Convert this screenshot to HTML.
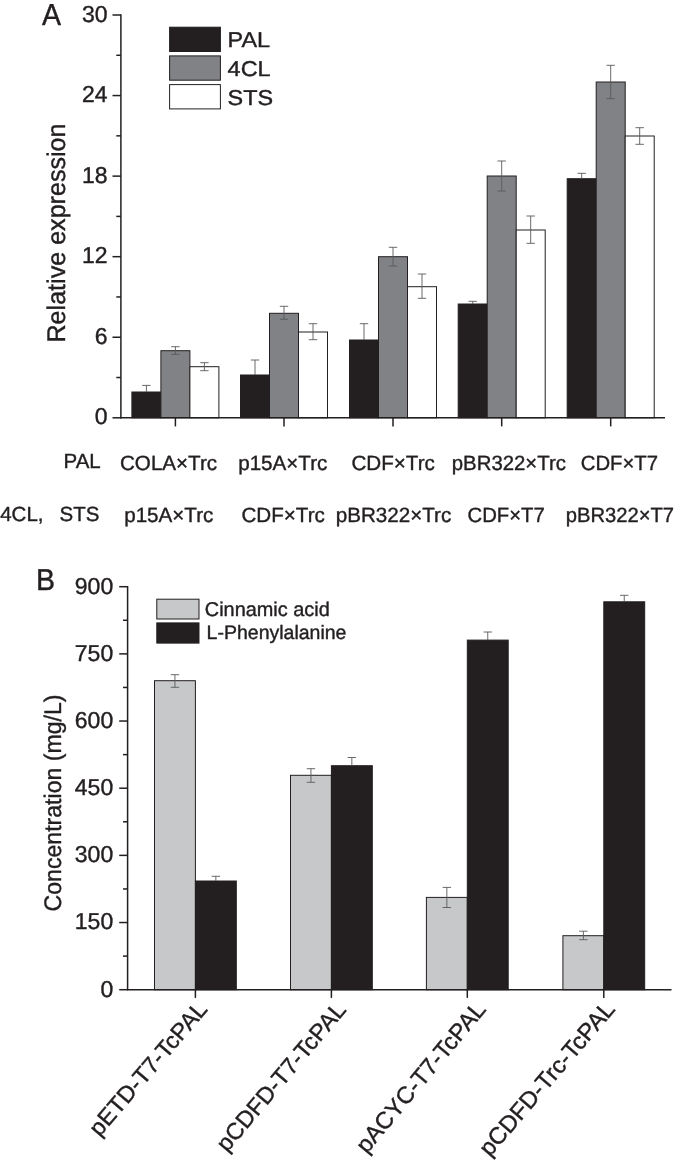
<!DOCTYPE html>
<html lang="en"><head><meta charset="utf-8"><title>Figure</title>
<style>
html,body{margin:0;padding:0;background:#fff;}
body{width:675px;height:1162px;overflow:hidden;}
svg{display:block;}
text{font-family:"Liberation Sans",Arial,Helvetica,sans-serif;fill:#231f20;stroke:#231f20;stroke-width:0.4px;stroke-linejoin:round;text-rendering:geometricPrecision;}
</style></head><body>
<svg style="will-change:transform" width="675" height="1162" viewBox="0 0 675 1162">
<rect x="0" y="0" width="675" height="1162" fill="#ffffff"/>

<rect x="131.90" y="392.00" width="29.00" height="25.80" fill="#231f20" stroke="#231f20" stroke-width="1.0"/>
<rect x="160.90" y="350.70" width="29.00" height="67.10" fill="#808285" stroke="#231f20" stroke-width="1.0"/>
<rect x="189.90" y="366.70" width="29.00" height="51.10" fill="#ffffff" stroke="#231f20" stroke-width="1.0"/>
<line x1="146.40" y1="385.40" x2="146.40" y2="392.00" stroke="#58595b" stroke-width="0.9"/>
<line x1="142.20" y1="385.40" x2="150.60" y2="385.40" stroke="#58595b" stroke-width="0.9"/>
<line x1="175.40" y1="346.70" x2="175.40" y2="354.30" stroke="#58595b" stroke-width="0.9"/>
<line x1="171.20" y1="346.70" x2="179.60" y2="346.70" stroke="#58595b" stroke-width="0.9"/>
<line x1="171.20" y1="354.30" x2="179.60" y2="354.30" stroke="#58595b" stroke-width="0.9"/>
<line x1="204.40" y1="362.70" x2="204.40" y2="370.70" stroke="#58595b" stroke-width="0.9"/>
<line x1="200.20" y1="362.70" x2="208.60" y2="362.70" stroke="#58595b" stroke-width="0.9"/>
<line x1="200.20" y1="370.70" x2="208.60" y2="370.70" stroke="#58595b" stroke-width="0.9"/>
<rect x="240.50" y="375.00" width="29.00" height="42.80" fill="#231f20" stroke="#231f20" stroke-width="1.0"/>
<rect x="269.50" y="313.30" width="29.00" height="104.50" fill="#808285" stroke="#231f20" stroke-width="1.0"/>
<rect x="298.50" y="332.00" width="29.00" height="85.80" fill="#ffffff" stroke="#231f20" stroke-width="1.0"/>
<line x1="255.00" y1="360.00" x2="255.00" y2="375.00" stroke="#58595b" stroke-width="0.9"/>
<line x1="250.80" y1="360.00" x2="259.20" y2="360.00" stroke="#58595b" stroke-width="0.9"/>
<line x1="284.00" y1="306.30" x2="284.00" y2="319.30" stroke="#58595b" stroke-width="0.9"/>
<line x1="279.80" y1="306.30" x2="288.20" y2="306.30" stroke="#58595b" stroke-width="0.9"/>
<line x1="279.80" y1="319.30" x2="288.20" y2="319.30" stroke="#58595b" stroke-width="0.9"/>
<line x1="313.00" y1="323.70" x2="313.00" y2="339.70" stroke="#58595b" stroke-width="0.9"/>
<line x1="308.80" y1="323.70" x2="317.20" y2="323.70" stroke="#58595b" stroke-width="0.9"/>
<line x1="308.80" y1="339.70" x2="317.20" y2="339.70" stroke="#58595b" stroke-width="0.9"/>
<rect x="349.50" y="340.00" width="29.00" height="77.80" fill="#231f20" stroke="#231f20" stroke-width="1.0"/>
<rect x="378.50" y="256.70" width="29.00" height="161.10" fill="#808285" stroke="#231f20" stroke-width="1.0"/>
<rect x="407.50" y="286.70" width="29.00" height="131.10" fill="#ffffff" stroke="#231f20" stroke-width="1.0"/>
<line x1="364.00" y1="323.70" x2="364.00" y2="340.00" stroke="#58595b" stroke-width="0.9"/>
<line x1="359.80" y1="323.70" x2="368.20" y2="323.70" stroke="#58595b" stroke-width="0.9"/>
<line x1="393.00" y1="247.30" x2="393.00" y2="266.00" stroke="#58595b" stroke-width="0.9"/>
<line x1="388.80" y1="247.30" x2="397.20" y2="247.30" stroke="#58595b" stroke-width="0.9"/>
<line x1="388.80" y1="266.00" x2="397.20" y2="266.00" stroke="#58595b" stroke-width="0.9"/>
<line x1="422.00" y1="274.00" x2="422.00" y2="298.30" stroke="#58595b" stroke-width="0.9"/>
<line x1="417.80" y1="274.00" x2="426.20" y2="274.00" stroke="#58595b" stroke-width="0.9"/>
<line x1="417.80" y1="298.30" x2="426.20" y2="298.30" stroke="#58595b" stroke-width="0.9"/>
<rect x="458.20" y="304.00" width="29.00" height="113.80" fill="#231f20" stroke="#231f20" stroke-width="1.0"/>
<rect x="487.20" y="176.00" width="29.00" height="241.80" fill="#808285" stroke="#231f20" stroke-width="1.0"/>
<rect x="516.20" y="230.00" width="29.00" height="187.80" fill="#ffffff" stroke="#231f20" stroke-width="1.0"/>
<line x1="472.70" y1="301.30" x2="472.70" y2="304.00" stroke="#58595b" stroke-width="0.9"/>
<line x1="468.50" y1="301.30" x2="476.90" y2="301.30" stroke="#58595b" stroke-width="0.9"/>
<line x1="501.70" y1="161.00" x2="501.70" y2="191.00" stroke="#58595b" stroke-width="0.9"/>
<line x1="497.50" y1="161.00" x2="505.90" y2="161.00" stroke="#58595b" stroke-width="0.9"/>
<line x1="497.50" y1="191.00" x2="505.90" y2="191.00" stroke="#58595b" stroke-width="0.9"/>
<line x1="530.70" y1="216.00" x2="530.70" y2="243.30" stroke="#58595b" stroke-width="0.9"/>
<line x1="526.50" y1="216.00" x2="534.90" y2="216.00" stroke="#58595b" stroke-width="0.9"/>
<line x1="526.50" y1="243.30" x2="534.90" y2="243.30" stroke="#58595b" stroke-width="0.9"/>
<rect x="567.20" y="178.70" width="29.00" height="239.10" fill="#231f20" stroke="#231f20" stroke-width="1.0"/>
<rect x="596.20" y="82.00" width="29.00" height="335.80" fill="#808285" stroke="#231f20" stroke-width="1.0"/>
<rect x="625.20" y="136.00" width="29.00" height="281.80" fill="#ffffff" stroke="#231f20" stroke-width="1.0"/>
<line x1="581.70" y1="173.30" x2="581.70" y2="178.70" stroke="#58595b" stroke-width="0.9"/>
<line x1="577.50" y1="173.30" x2="585.90" y2="173.30" stroke="#58595b" stroke-width="0.9"/>
<line x1="610.70" y1="65.30" x2="610.70" y2="98.70" stroke="#58595b" stroke-width="0.9"/>
<line x1="606.50" y1="65.30" x2="614.90" y2="65.30" stroke="#58595b" stroke-width="0.9"/>
<line x1="606.50" y1="98.70" x2="614.90" y2="98.70" stroke="#58595b" stroke-width="0.9"/>
<line x1="639.70" y1="127.70" x2="639.70" y2="144.30" stroke="#58595b" stroke-width="0.9"/>
<line x1="635.50" y1="127.70" x2="643.90" y2="127.70" stroke="#58595b" stroke-width="0.9"/>
<line x1="635.50" y1="144.30" x2="643.90" y2="144.30" stroke="#58595b" stroke-width="0.9"/>
<line x1="120.90" y1="14.35" x2="120.90" y2="418.45" stroke="#231f20" stroke-width="1.5"/>
<line x1="120.25" y1="417.80" x2="665.00" y2="417.80" stroke="#231f20" stroke-width="1.5"/>
<line x1="112.50" y1="417.80" x2="120.90" y2="417.80" stroke="#231f20" stroke-width="1.5"/>
<text transform="translate(107.60,424.40)" font-size="23" text-anchor="end">0</text>
<line x1="116.30" y1="377.52" x2="120.90" y2="377.52" stroke="#231f20" stroke-width="1.5"/>
<line x1="112.50" y1="337.24" x2="120.90" y2="337.24" stroke="#231f20" stroke-width="1.5"/>
<text transform="translate(107.60,343.84)" font-size="23" text-anchor="end">6</text>
<line x1="116.30" y1="296.96" x2="120.90" y2="296.96" stroke="#231f20" stroke-width="1.5"/>
<line x1="112.50" y1="256.68" x2="120.90" y2="256.68" stroke="#231f20" stroke-width="1.5"/>
<text transform="translate(107.60,263.28)" font-size="23" text-anchor="end">12</text>
<line x1="116.30" y1="216.40" x2="120.90" y2="216.40" stroke="#231f20" stroke-width="1.5"/>
<line x1="112.50" y1="176.12" x2="120.90" y2="176.12" stroke="#231f20" stroke-width="1.5"/>
<text transform="translate(107.60,182.72)" font-size="23" text-anchor="end">18</text>
<line x1="116.30" y1="135.84" x2="120.90" y2="135.84" stroke="#231f20" stroke-width="1.5"/>
<line x1="112.50" y1="95.56" x2="120.90" y2="95.56" stroke="#231f20" stroke-width="1.5"/>
<text transform="translate(107.60,102.16)" font-size="23" text-anchor="end">24</text>
<line x1="116.30" y1="55.28" x2="120.90" y2="55.28" stroke="#231f20" stroke-width="1.5"/>
<line x1="112.50" y1="15.00" x2="120.90" y2="15.00" stroke="#231f20" stroke-width="1.5"/>
<text transform="translate(107.60,21.60)" font-size="23" text-anchor="end">30</text>
<line x1="175.40" y1="417.80" x2="175.40" y2="426.40" stroke="#231f20" stroke-width="1.5"/>
<line x1="284.00" y1="417.80" x2="284.00" y2="426.40" stroke="#231f20" stroke-width="1.5"/>
<line x1="393.00" y1="417.80" x2="393.00" y2="426.40" stroke="#231f20" stroke-width="1.5"/>
<line x1="501.70" y1="417.80" x2="501.70" y2="426.40" stroke="#231f20" stroke-width="1.5"/>
<line x1="610.70" y1="417.80" x2="610.70" y2="426.40" stroke="#231f20" stroke-width="1.5"/>
<rect x="169.60" y="27.20" width="50.80" height="24.30" fill="#231f20" stroke="#231f20" stroke-width="1.0"/>
<text transform="translate(227.60,47.10) scale(1.0950,1)" font-size="21.4" text-anchor="start">PAL</text>
<rect x="169.60" y="55.90" width="50.80" height="24.30" fill="#808285" stroke="#231f20" stroke-width="1.0"/>
<text transform="translate(227.60,75.80) scale(1.0950,1)" font-size="21.4" text-anchor="start">4CL</text>
<rect x="169.60" y="84.60" width="50.80" height="24.30" fill="#ffffff" stroke="#231f20" stroke-width="1.0"/>
<text transform="translate(227.60,104.50) scale(1.0950,1)" font-size="21.4" text-anchor="start">STS</text>
<text transform="translate(41.90,25.00) scale(0.9380,1)" font-size="30.4" text-anchor="start">A</text>
<text transform="translate(65.2,233) rotate(-90)" font-size="25.5" text-anchor="middle" textLength="219" lengthAdjust="spacingAndGlyphs">Relative expression</text>
<text transform="translate(63.50,467.80)" font-size="20.5" text-anchor="start">PAL</text>
<text transform="translate(0.20,520.60)" font-size="20.5" text-anchor="start">4CL,</text>
<text transform="translate(59.60,520.60)" font-size="20.5" text-anchor="start">STS</text>
<text transform="translate(120.00,470.00)" font-size="20.6" text-anchor="start">COLA×Trc</text>
<text transform="translate(238.20,470.00)" font-size="20.6" text-anchor="start">p15A×Trc</text>
<text transform="translate(351.50,470.00)" font-size="20.6" text-anchor="start">CDF×Trc</text>
<text transform="translate(451.80,470.00) scale(0.9880,1)" font-size="20.6" text-anchor="start">pBR322×Trc</text>
<text transform="translate(580.80,470.00) scale(0.9850,1)" font-size="20.6" text-anchor="start">CDF×T7</text>
<text transform="translate(124.20,522.00)" font-size="20.6" text-anchor="start">p15A×Trc</text>
<text transform="translate(241.50,522.00)" font-size="20.6" text-anchor="start">CDF×Trc</text>
<text transform="translate(335.80,522.00)" font-size="20.6" text-anchor="start">pBR322×Trc</text>
<text transform="translate(467.50,522.00) scale(0.9850,1)" font-size="20.6" text-anchor="start">CDF×T7</text>
<text transform="translate(565.80,522.00) scale(0.9800,1)" font-size="20.6" text-anchor="start">pBR322×T7</text>
<rect x="154.50" y="680.70" width="40.90" height="309.00" fill="#c7c8ca" stroke="#231f20" stroke-width="1.0"/>
<rect x="195.40" y="881.00" width="40.90" height="108.70" fill="#231f20" stroke="#231f20" stroke-width="1.0"/>
<line x1="174.95" y1="674.70" x2="174.95" y2="687.30" stroke="#58595b" stroke-width="0.9"/>
<line x1="170.75" y1="674.70" x2="179.15" y2="674.70" stroke="#58595b" stroke-width="0.9"/>
<line x1="170.75" y1="687.30" x2="179.15" y2="687.30" stroke="#58595b" stroke-width="0.9"/>
<line x1="215.85" y1="876.30" x2="215.85" y2="881.00" stroke="#58595b" stroke-width="0.9"/>
<line x1="211.65" y1="876.30" x2="220.05" y2="876.30" stroke="#58595b" stroke-width="0.9"/>
<rect x="290.50" y="775.30" width="40.90" height="214.40" fill="#c7c8ca" stroke="#231f20" stroke-width="1.0"/>
<rect x="331.40" y="765.70" width="40.90" height="224.00" fill="#231f20" stroke="#231f20" stroke-width="1.0"/>
<line x1="310.95" y1="768.70" x2="310.95" y2="782.30" stroke="#58595b" stroke-width="0.9"/>
<line x1="306.75" y1="768.70" x2="315.15" y2="768.70" stroke="#58595b" stroke-width="0.9"/>
<line x1="306.75" y1="782.30" x2="315.15" y2="782.30" stroke="#58595b" stroke-width="0.9"/>
<line x1="351.85" y1="757.50" x2="351.85" y2="765.70" stroke="#58595b" stroke-width="0.9"/>
<line x1="347.65" y1="757.50" x2="356.05" y2="757.50" stroke="#58595b" stroke-width="0.9"/>
<rect x="426.40" y="897.40" width="40.90" height="92.30" fill="#c7c8ca" stroke="#231f20" stroke-width="1.0"/>
<rect x="467.30" y="640.10" width="40.90" height="349.60" fill="#231f20" stroke="#231f20" stroke-width="1.0"/>
<line x1="446.85" y1="887.40" x2="446.85" y2="907.50" stroke="#58595b" stroke-width="0.9"/>
<line x1="442.65" y1="887.40" x2="451.05" y2="887.40" stroke="#58595b" stroke-width="0.9"/>
<line x1="442.65" y1="907.50" x2="451.05" y2="907.50" stroke="#58595b" stroke-width="0.9"/>
<line x1="487.75" y1="632.00" x2="487.75" y2="640.10" stroke="#58595b" stroke-width="0.9"/>
<line x1="483.55" y1="632.00" x2="491.95" y2="632.00" stroke="#58595b" stroke-width="0.9"/>
<rect x="562.90" y="935.70" width="40.90" height="54.00" fill="#c7c8ca" stroke="#231f20" stroke-width="1.0"/>
<rect x="603.80" y="601.80" width="40.90" height="387.90" fill="#231f20" stroke="#231f20" stroke-width="1.0"/>
<line x1="583.35" y1="931.20" x2="583.35" y2="939.70" stroke="#58595b" stroke-width="0.9"/>
<line x1="579.15" y1="931.20" x2="587.55" y2="931.20" stroke="#58595b" stroke-width="0.9"/>
<line x1="579.15" y1="939.70" x2="587.55" y2="939.70" stroke="#58595b" stroke-width="0.9"/>
<line x1="624.25" y1="595.30" x2="624.25" y2="601.80" stroke="#58595b" stroke-width="0.9"/>
<line x1="620.05" y1="595.30" x2="628.45" y2="595.30" stroke="#58595b" stroke-width="0.9"/>
<line x1="127.60" y1="586.05" x2="127.60" y2="990.35" stroke="#231f20" stroke-width="1.5"/>
<line x1="126.95" y1="989.70" x2="671.50" y2="989.70" stroke="#231f20" stroke-width="1.5"/>
<line x1="119.20" y1="989.70" x2="127.60" y2="989.70" stroke="#231f20" stroke-width="1.5"/>
<text transform="translate(113.20,996.50)" font-size="23" text-anchor="end">0</text>
<line x1="123.00" y1="956.12" x2="127.60" y2="956.12" stroke="#231f20" stroke-width="1.5"/>
<line x1="119.20" y1="922.53" x2="127.60" y2="922.53" stroke="#231f20" stroke-width="1.5"/>
<text transform="translate(113.20,929.33)" font-size="23" text-anchor="end">150</text>
<line x1="123.00" y1="888.95" x2="127.60" y2="888.95" stroke="#231f20" stroke-width="1.5"/>
<line x1="119.20" y1="855.37" x2="127.60" y2="855.37" stroke="#231f20" stroke-width="1.5"/>
<text transform="translate(113.20,862.17)" font-size="23" text-anchor="end">300</text>
<line x1="123.00" y1="821.78" x2="127.60" y2="821.78" stroke="#231f20" stroke-width="1.5"/>
<line x1="119.20" y1="788.20" x2="127.60" y2="788.20" stroke="#231f20" stroke-width="1.5"/>
<text transform="translate(113.20,795.00)" font-size="23" text-anchor="end">450</text>
<line x1="123.00" y1="754.62" x2="127.60" y2="754.62" stroke="#231f20" stroke-width="1.5"/>
<line x1="119.20" y1="721.03" x2="127.60" y2="721.03" stroke="#231f20" stroke-width="1.5"/>
<text transform="translate(113.20,727.83)" font-size="23" text-anchor="end">600</text>
<line x1="123.00" y1="687.45" x2="127.60" y2="687.45" stroke="#231f20" stroke-width="1.5"/>
<line x1="119.20" y1="653.87" x2="127.60" y2="653.87" stroke="#231f20" stroke-width="1.5"/>
<text transform="translate(113.20,660.67)" font-size="23" text-anchor="end">750</text>
<line x1="123.00" y1="620.28" x2="127.60" y2="620.28" stroke="#231f20" stroke-width="1.5"/>
<line x1="119.20" y1="586.70" x2="127.60" y2="586.70" stroke="#231f20" stroke-width="1.5"/>
<text transform="translate(113.20,593.50)" font-size="23" text-anchor="end">900</text>
<line x1="195.40" y1="989.70" x2="195.40" y2="997.90" stroke="#231f20" stroke-width="1.5"/>
<text transform="translate(208.50,1009.80) rotate(-49.5)" font-size="23.3" text-anchor="end">pETD-T7-TcPAL</text>
<line x1="331.40" y1="989.70" x2="331.40" y2="997.90" stroke="#231f20" stroke-width="1.5"/>
<text transform="translate(347.20,1010.30) rotate(-49.9)" font-size="23.37" text-anchor="end">pCDFD-T7-TcPAL</text>
<line x1="467.30" y1="989.70" x2="467.30" y2="997.90" stroke="#231f20" stroke-width="1.5"/>
<text transform="translate(486.80,1009.80) rotate(-50.3)" font-size="23.55" text-anchor="end">pACYC-T7-TcPAL</text>
<line x1="603.80" y1="989.70" x2="603.80" y2="997.90" stroke="#231f20" stroke-width="1.5"/>
<text transform="translate(616.00,1009.80) rotate(-49.5)" font-size="23.65" text-anchor="end">pCDFD-Trc-TcPAL</text>
<rect x="156.80" y="599.20" width="42.20" height="19.80" fill="#c7c8ca" stroke="#231f20" stroke-width="1.0"/>
<rect x="156.80" y="622.90" width="42.20" height="20.20" fill="#231f20" stroke="#231f20" stroke-width="1.0"/>
<text transform="translate(204.80,615.60)" font-size="19.9" text-anchor="start">Cinnamic acid</text>
<text transform="translate(206.60,639.20)" font-size="19.5" text-anchor="start">L-Phenylalanine</text>
<text transform="translate(36.00,589.50) scale(0.9440,1)" font-size="30.2" text-anchor="start">B</text>
<text transform="translate(60.6,803) rotate(-90)" font-size="24" text-anchor="middle" textLength="217" lengthAdjust="spacingAndGlyphs">Concentration (mg/L)</text>
</svg>
</body></html>
